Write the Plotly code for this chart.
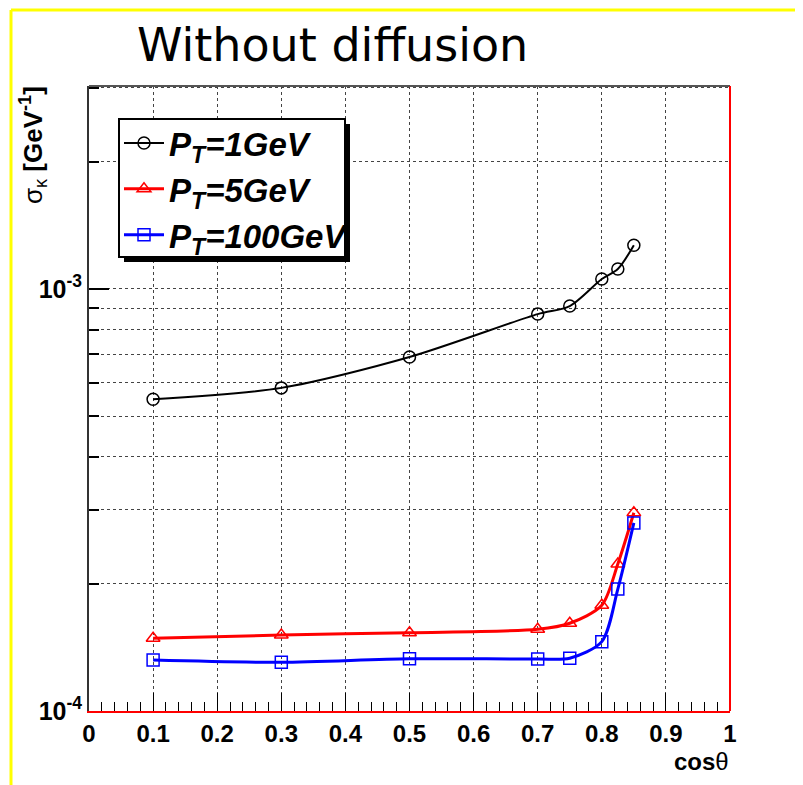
import plotly.graph_objects as go

# ---- data ----
cos_theta = [0.1, 0.3, 0.5, 0.7, 0.75, 0.8, 0.825, 0.85]
sigma_pt1 = [5.48e-4, 5.83e-4, 6.90e-4, 8.72e-4, 9.11e-4, 1.056e-3, 1.115e-3, 1.27e-3]
sigma_pt5 = [1.487e-4, 1.514e-4, 1.533e-4, 1.562e-4, 1.614e-4, 1.78e-4, 2.23e-4, 2.95e-4]
sigma_pt100 = [1.32e-4, 1.304e-4, 1.33e-4, 1.328e-4, 1.334e-4, 1.46e-4, 1.945e-4, 2.79e-4]
series_names = ["<b><i>P<sub>T</sub>=1GeV</i></b>", "<b><i>P<sub>T</sub>=5GeV</i></b>",
                "<b><i>P<sub>T</sub>=100GeV</i></b>"]
x_tick_vals = [0, 0.1, 0.2, 0.3, 0.4, 0.5, 0.6, 0.7, 0.8, 0.9, 1]
x_tick_labels = ["0", "0.1", "0.2", "0.3", "0.4", "0.5", "0.6", "0.7", "0.8", "0.9", "1"]
y_tick_vals = [1e-4, 1e-3]
y_tick_labels = ["10<sup>-4</sup>", "10<sup>-3</sup>"]
y_minor_vals = [2e-4, 3e-4, 4e-4, 5e-4, 6e-4, 7e-4, 8e-4, 9e-4, 2e-3, 3e-3]

fig = go.Figure()
styles = [
    dict(color="black", symbol="circle-open", lw=2),
    dict(color="#ff0000", symbol="triangle-up-open", lw=3),
    dict(color="#0000ff", symbol="square-open", lw=3),
]
for ys, name, st in zip([sigma_pt1, sigma_pt5, sigma_pt100], series_names, styles):
    fig.add_trace(go.Scatter(
        x=cos_theta, y=ys, name=name, mode="lines+markers",
        line=dict(color=st["color"], width=st["lw"], shape="spline", smoothing=0.8),
        marker=dict(symbol=st["symbol"], size=12, color=st["color"], line=dict(width=1.5, color=st["color"])),
    ))

OFF = 8  # page body margin of the browser
W, H = 803, 785
# target plot area in screenshot pixels: x 89..730, y 86..711
L, T = 89 - OFF, 86 - OFF
pw, ph = 641, 625
R, B = W - L - pw, H - T - ph
def px(X):
    return (X - 89) / pw
def py(Y):
    return (711 - Y) / ph

grid = dict(showgrid=True, gridcolor="#444444", griddash="dot", gridwidth=1)

fig.update_layout(
    width=W, height=H,
    margin=dict(l=L, r=R, t=T, b=B),
    paper_bgcolor="white", plot_bgcolor="white",
    font=dict(family="Liberation Sans, Arial, sans-serif", color="black"),
    showlegend=True,
    legend=dict(
        x=px(119), y=py(115), xanchor="left", yanchor="top",
        bgcolor="rgba(0,0,0,0)", borderwidth=0,
        font=dict(size=33, family="Liberation Sans, Arial, sans-serif"),
        tracegroupgap=0, itemwidth=40,
    ),
    xaxis=dict(
        range=[0, 1], tickmode="array", tickvals=x_tick_vals, ticktext=x_tick_labels,
        ticks="inside", ticklen=18, tickwidth=1, tickcolor="black",
        tickfont=dict(size=24, weight="bold"),
        showline=True, linecolor="#ff0000", linewidth=2,
        zeroline=False, **grid,
        minor=dict(dtick=0.02, tick0=0, ticks="inside", ticklen=9, tickwidth=1, tickcolor="black", showgrid=False),
    ),
    yaxis=dict(
        type="log", range=[-4, -2.519], tickmode="array", tickvals=y_tick_vals, ticktext=y_tick_labels,
        ticks="inside", ticklen=20, tickwidth=1.5, tickcolor="black",
        tickfont=dict(size=25, weight="bold"),
        showline=True, linecolor="#333333", linewidth=2,
        zeroline=False, **grid,
        minor=dict(tickmode="array", tickvals=y_minor_vals, ticks="inside", ticklen=10, tickwidth=1.5,
                   tickcolor="black", showgrid=True, gridcolor="#444444", griddash="dot", gridwidth=1),
    ),
    shapes=[
        # legend shadow + box
        dict(type="rect", xref="paper", yref="paper", x0=px(124), x1=px(350), y0=py(124), y1=py(262),
             fillcolor="black", line=dict(width=0), layer="above"),
        dict(type="rect", xref="paper", yref="paper", x0=px(119), x1=px(345), y0=py(119), y1=py(257),
             fillcolor="white", line=dict(width=2, color="black"), layer="above"),
        # top frame
        dict(type="line", xref="paper", yref="paper", x0=0, x1=1, y0=1, y1=1, line=dict(color="#555555", width=2)),
        # right frame (red)
        dict(type="line", xref="paper", yref="paper", x0=1, x1=1, y0=0, y1=1, line=dict(color="#ff0000", width=2)),
        # yellow canvas border
        dict(type="line", xref="paper", yref="paper", x0=px(11), x1=px(803), y0=py(10), y1=py(10),
             line=dict(color="#ffff00", width=3)),
        dict(type="line", xref="paper", yref="paper", x0=px(11), x1=px(11), y0=py(10), y1=py(785),
             line=dict(color="#ffff00", width=3)),
    ],
    annotations=[
        dict(text="Without diffusion", xref="paper", yref="paper", x=px(332), y=py(45),
             xanchor="center", yanchor="middle", showarrow=False,
             font=dict(size=46, family="DejaVu Sans, sans-serif", color="black")),
        dict(text="σ<sub>κ</sub> <b>[GeV<sup>-1</sup>]</b>", xref="paper", yref="paper", x=px(33), y=py(84),
             xanchor="center", yanchor="top", textangle=-90, showarrow=False,
             font=dict(size=26, color="black")),
        dict(text="<b>cos</b>θ", xref="paper", yref="paper", x=px(731), y=py(761),
             xanchor="right", yanchor="middle", showarrow=False,
             font=dict(size=24, color="black")),
    ],
)

fig.write_html("out.html")
